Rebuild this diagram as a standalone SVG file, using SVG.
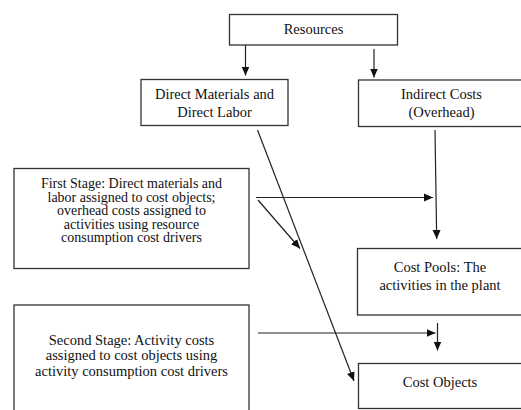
<svg xmlns="http://www.w3.org/2000/svg" width="521" height="410" viewBox="0 0 521 410">
<style>
.box{fill:#fff;stroke:#333;stroke-width:1.3}
.t{font-family:"Liberation Serif","Times New Roman",serif;font-size:14.5px;fill:#111;text-anchor:middle}
.s{font-size:14px}
.c{stroke:#222;stroke-width:1.2;fill:none;marker-end:url(#ah)}
</style>
<defs>
<marker id="ah" markerUnits="userSpaceOnUse" markerWidth="10" markerHeight="10" viewBox="0 0 10 10" refX="9" refY="5" orient="auto">
<path d="M0,1 L9,5 L0,9 Z" fill="#111"/>
</marker>
</defs>
<rect width="521" height="410" fill="#fff"/>
<g id="resources">
<rect class="box" x="229.5" y="14.5" width="168" height="30.5"/>
<text class="t" x="313.5" y="34">Resources</text>
</g>
<g id="direct">
<rect class="box" x="141" y="79.5" width="147" height="46"/>
<text class="t" x="214.5" y="99">Direct Materials and</text>
<text class="t" x="214.5" y="117">Direct Labor</text>
</g>
<g id="indirect">
<rect class="box" x="358.5" y="80" width="175" height="46.5"/>
<text class="t" x="441.5" y="99">Indirect Costs</text>
<text class="t" x="441.5" y="116.5">(Overhead)</text>
</g>
<g id="first-stage">
<rect class="box" x="14" y="168.5" width="235" height="100"/>
<text class="t s" x="131.5" y="188">First Stage: Direct materials and</text>
<text class="t s" x="131.5" y="201.5">labor assigned to cost objects;</text>
<text class="t s" x="131.5" y="215">overhead costs assigned to</text>
<text class="t s" x="131.5" y="228.5">activities using resource</text>
<text class="t s" x="131.5" y="242">consumption cost drivers</text>
</g>
<g id="cost-pools">
<rect class="box" x="357.5" y="248.5" width="175" height="66.5"/>
<text class="t" x="440" y="272">Cost Pools: The</text>
<text class="t" x="440" y="290">activities in the plant</text>
</g>
<g id="second-stage">
<rect class="box" x="14" y="305" width="235" height="120"/>
<text class="t" x="131.5" y="344.5">Second Stage: Activity costs</text>
<text class="t" x="131.5" y="360">assigned to cost objects using</text>
<text class="t" x="131.5" y="375.5">activity consumption cost drivers</text>
</g>
<g id="cost-objects">
<rect class="box" x="358.5" y="363.5" width="175" height="45"/>
<text class="t" x="440" y="387">Cost Objects</text>
</g>
<g id="connectors">
<line class="c" x1="245.5" y1="45" x2="245.5" y2="75.5"/>
<line class="c" x1="374" y1="49" x2="374" y2="77.5"/>
<line class="c" x1="257.5" y1="130" x2="354" y2="381"/>
<line class="c" x1="435" y1="130" x2="436.7" y2="239"/>
<line class="c" x1="256" y1="197.5" x2="433" y2="197.5"/>
<line class="c" x1="258" y1="200" x2="300" y2="248.5"/>
<line class="c" x1="258" y1="333" x2="435.5" y2="333"/>
<line class="c" x1="437.5" y1="323" x2="437.5" y2="350.5"/>
</g>
</svg>
